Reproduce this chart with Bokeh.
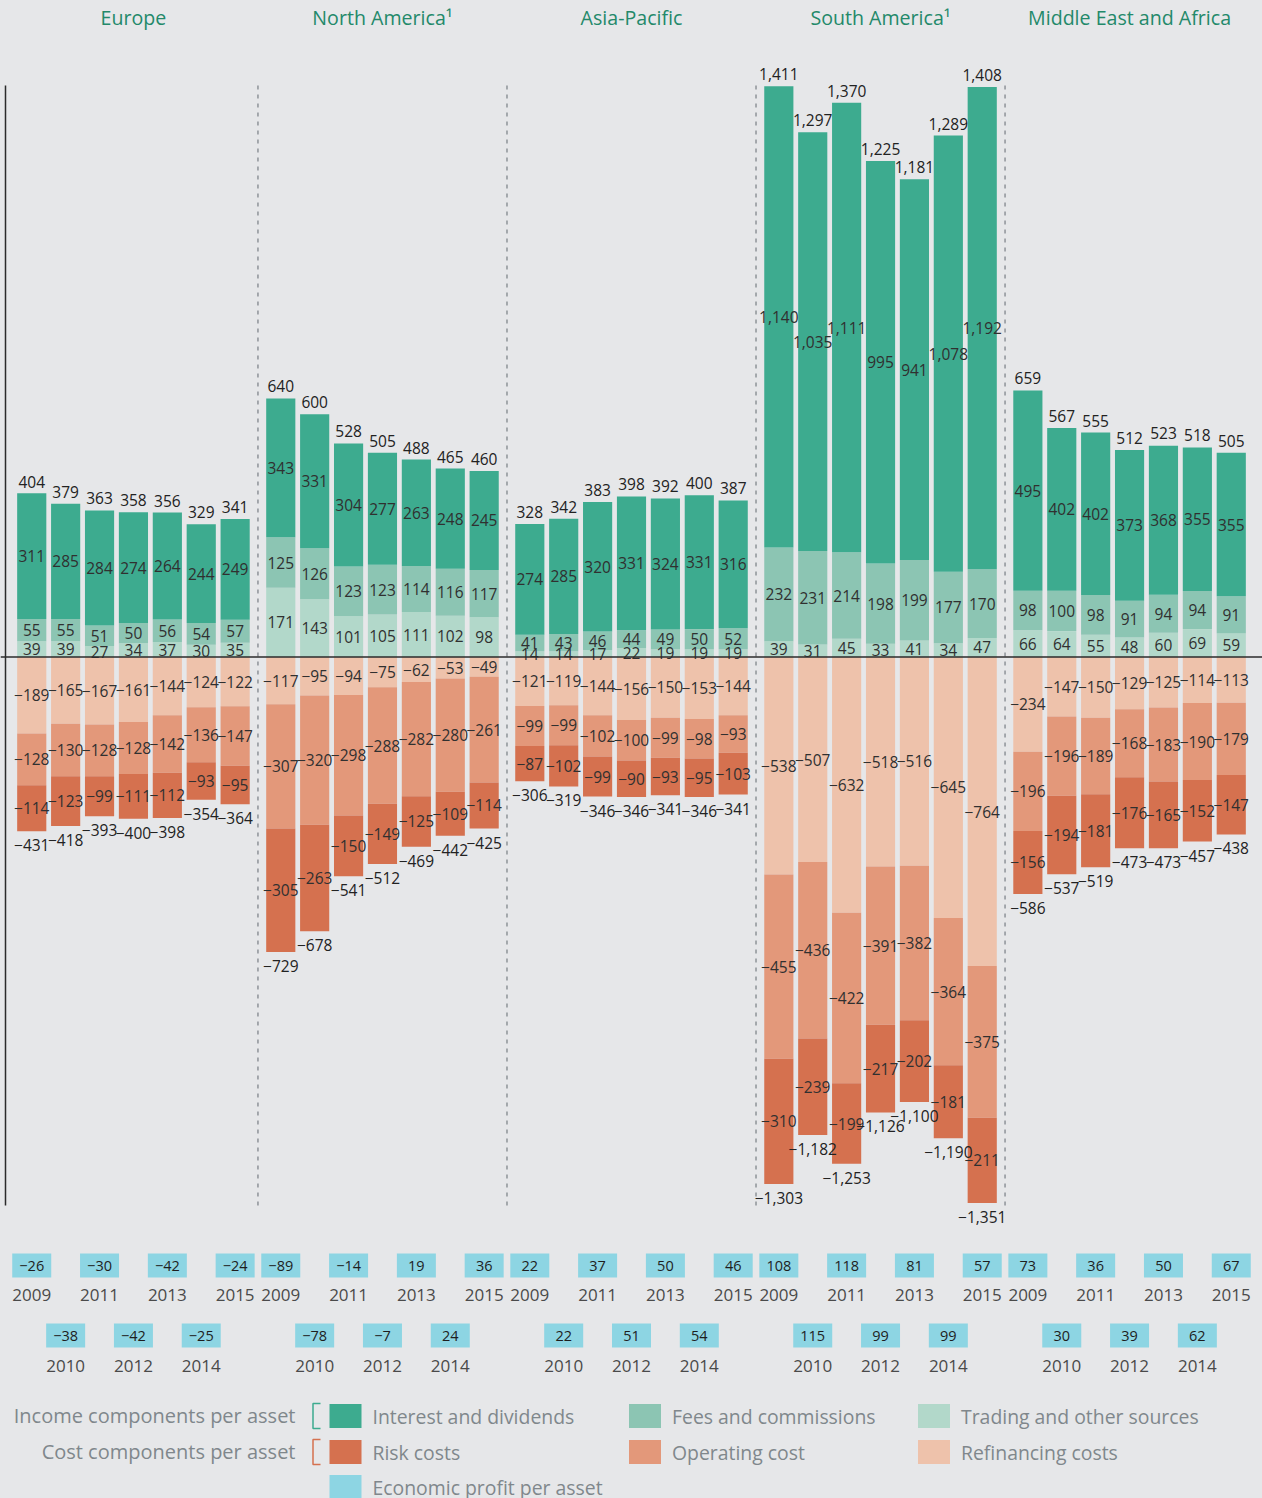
from bokeh.plotting import figure
from bokeh.models import FactorRange, Range1d, ColumnDataSource, Span
from bokeh.embed import file_html
from bokeh.resources import INLINE
from bokeh.core.properties import value

# ---------------- data ----------------
regions = ["Europe", "North America", "Asia-Pacific", "South America", "Middle East and Africa"]
region_titles = ["Europe", "North America¹", "Asia-Pacific", "South America¹", "Middle East and Africa"]
years = ["2009", "2010", "2011", "2012", "2013", "2014", "2015"]

interest = {
    "Europe": [311, 285, 284, 274, 264, 244, 249],
    "North America": [343, 331, 304, 277, 263, 248, 245],
    "Asia-Pacific": [274, 285, 320, 331, 324, 331, 316],
    "South America": [1140, 1035, 1111, 995, 941, 1078, 1192],
    "Middle East and Africa": [495, 402, 402, 373, 368, 355, 355],
}
fees = {
    "Europe": [55, 55, 51, 50, 56, 54, 57],
    "North America": [125, 126, 123, 123, 114, 116, 117],
    "Asia-Pacific": [41, 43, 46, 44, 49, 50, 52],
    "South America": [232, 231, 214, 198, 199, 177, 170],
    "Middle East and Africa": [98, 100, 98, 91, 94, 94, 91],
}
trading = {
    "Europe": [39, 39, 27, 34, 37, 30, 35],
    "North America": [171, 143, 101, 105, 111, 102, 98],
    "Asia-Pacific": [14, 14, 17, 22, 19, 19, 19],
    "South America": [39, 31, 45, 33, 41, 34, 47],
    "Middle East and Africa": [66, 64, 55, 48, 60, 69, 59],
}
income_total = {
    "Europe": [404, 379, 363, 358, 356, 329, 341],
    "North America": [640, 600, 528, 505, 488, 465, 460],
    "Asia-Pacific": [328, 342, 383, 398, 392, 400, 387],
    "South America": [1411, 1297, 1370, 1225, 1181, 1289, 1408],
    "Middle East and Africa": [659, 567, 555, 512, 523, 518, 505],
}
refinancing = {
    "Europe": [-189, -165, -167, -161, -144, -124, -122],
    "North America": [-117, -95, -94, -75, -62, -53, -49],
    "Asia-Pacific": [-121, -119, -144, -156, -150, -153, -144],
    "South America": [-538, -507, -632, -518, -516, -645, -764],
    "Middle East and Africa": [-234, -147, -150, -129, -125, -114, -113],
}
operating = {
    "Europe": [-128, -130, -128, -128, -142, -136, -147],
    "North America": [-307, -320, -298, -288, -282, -280, -261],
    "Asia-Pacific": [-99, -99, -102, -100, -99, -98, -93],
    "South America": [-455, -436, -422, -391, -382, -364, -375],
    "Middle East and Africa": [-196, -196, -189, -168, -183, -190, -179],
}
risk = {
    "Europe": [-114, -123, -99, -111, -112, -93, -95],
    "North America": [-305, -263, -150, -149, -125, -109, -114],
    "Asia-Pacific": [-87, -102, -99, -90, -93, -95, -103],
    "South America": [-310, -239, -199, -217, -202, -181, -211],
    "Middle East and Africa": [-156, -194, -181, -176, -165, -152, -147],
}
cost_total = {
    "Europe": [-431, -418, -393, -400, -398, -354, -364],
    "North America": [-729, -678, -541, -512, -469, -442, -425],
    "Asia-Pacific": [-306, -319, -346, -346, -341, -346, -341],
    "South America": [-1303, -1182, -1253, -1126, -1100, -1190, -1351],
    "Middle East and Africa": [-586, -537, -519, -473, -473, -457, -438],
}
economic_profit = {
    "Europe": [-26, -38, -30, -42, -42, -25, -24],
    "North America": [-89, -78, -14, -7, 19, 24, 36],
    "Asia-Pacific": [22, 22, 37, 51, 50, 54, 46],
    "South America": [108, 115, 118, 99, 81, 99, 57],
    "Middle East and Africa": [73, 30, 36, 39, 50, 62, 67],
}

# ---------------- styles / layout ----------------
C_INT, C_FEE, C_TRD = "#3dab8f", "#8cc5b3", "#b2d8ca"
C_RISK, C_OPER, C_REF = "#d5714f", "#e3987a", "#eec2ab"
C_EP = "#8dd5e3"
BG = "#e6e7e9"
FONT = value("Open Sans")

W, H = 1262, 1498
ZERO_REF = 656.5
SCALE = 0.4045
U = 33.9
G = 0.346
L = 35 + 4 * G
PAD_SIDE = (W / U - L) / 2


def yv(ref_y):
    return (ZERO_REF - ref_y) / SCALE


def xs(ref_x):
    return ref_x / U - PAD_SIDE


def fmt(v):
    return f"{v:,}".replace("-", "\u2212")


factors = [(r, y) for r in regions for y in years]
x_range = FactorRange(*factors, group_padding=G, range_padding=PAD_SIDE,
                      range_padding_units="absolute")

p = figure(x_range=x_range, y_range=Range1d(yv(H), yv(0)),
           width=W, height=H, output_backend="svg", toolbar_location=None,
           x_axis_location=None, y_axis_location=None, min_border=0)
p.grid.visible = False
p.outline_line_color = None
p.background_fill_color = BG
p.border_fill_color = BG

data = dict(x=[], trading=[], fees=[], interest=[], refin=[], oper=[], risk=[],
            inc=[], cost=[], inc_txt=[], cost_txt=[])
seg = dict(x=[], y=[], t=[])
ep = dict(x=[], y=[], t=[], yl=[], yr=[])
for r in regions:
    for i, yr in enumerate(years):
        x = (r, yr)
        tr, fe, it = trading[r][i], fees[r][i], interest[r][i]
        rf, op, rk = refinancing[r][i], operating[r][i], risk[r][i]
        data["x"].append(x)
        data["trading"].append(tr)
        data["fees"].append(fe)
        data["interest"].append(it)
        data["refin"].append(rf)
        data["oper"].append(op)
        data["risk"].append(rk)
        data["inc"].append(income_total[r][i])
        data["cost"].append(cost_total[r][i])
        data["inc_txt"].append(fmt(income_total[r][i]))
        data["cost_txt"].append(fmt(cost_total[r][i]))
        base = 0
        for v in (tr, fe, it):
            seg["x"].append(x); seg["y"].append(base + v / 2); seg["t"].append(fmt(v))
            base += v
        base = 0
        for v in (rf, op, rk):
            seg["x"].append(x); seg["y"].append(base + v / 2); seg["t"].append(fmt(v))
            base += v
        row = i % 2
        ep["x"].append(x)
        ep["y"].append(yv(1265) if row == 0 else yv(1335))
        ep["yl"].append(yv(1294) if row == 0 else yv(1365))
        ep["t"].append(fmt(economic_profit[r][i]))
        ep["yr"].append(yr)

src = ColumnDataSource(data)

# zero line
p.add_layout(Span(location=0, dimension="width", line_color="#2b2b2b", line_width=1.6))

# left axis line and dashed separators
p.segment(x0=[xs(5)], y0=[yv(85)], x1=[xs(5)], y1=[yv(1205)],
          line_color="#2b2b2b", line_width=1.5)
sep_x = [(r, years[-1], 0.5 + G / 2) for r in regions[:-1]]
p.segment(x0=sep_x, y0=[yv(85)] * 4, x1=sep_x, y1=[yv(1205)] * 4,
          line_color="#8e9398", line_width=1.5, line_dash="4 5")

p.vbar_stack(["trading", "fees", "interest"], x="x", width=0.86, source=src,
             color=[C_TRD, C_FEE, C_INT], line_width=0)
p.vbar_stack(["refin", "oper", "risk"], x="x", width=0.86, source=src,
             color=[C_REF, C_OPER, C_RISK], line_width=0)

LBL = "15.5px"
p.text(x="x", y="y", text="t", source=ColumnDataSource(seg), text_align="center",
       text_baseline="middle", text_font=FONT, text_font_size=LBL, text_color="#303030")
p.text(x="x", y="inc", text="inc_txt", source=src, text_align="center",
       text_baseline="bottom", y_offset=-6, text_font=FONT, text_font_size=LBL,
       text_color="#222222")
p.text(x="x", y="cost", text="cost_txt", source=src, text_align="center",
       text_baseline="top", y_offset=8, text_font=FONT, text_font_size=LBL,
       text_color="#222222")

# region titles
p.text(x=[(r, "2012") for r in regions], y=[yv(17)] * 5, text=region_titles,
       text_align="center", text_baseline="middle", text_font=FONT,
       text_font_size="19.6px", text_color="#23896a")

# economic profit boxes
eps = ColumnDataSource(ep)
p.rect(x="x", y="y", width=39, height=24, width_units="screen", height_units="screen",
       source=eps, fill_color=C_EP, line_color=None)
p.text(x="x", y="y", text="t", source=eps, text_align="center", text_baseline="middle",
       text_font=FONT, text_font_size="14.5px", text_color="#1e1e1e")
p.text(x="x", y="yl", text="yr", source=eps, text_align="center", text_baseline="middle",
       text_font=FONT, text_font_size="17px", text_color="#4a4a4a")

# legend
LEG_GREY = "#80878c"
p.text(x=[xs(295)] * 2, y=[yv(1415), yv(1451)],
       text=["Income components per asset", "Cost components per asset"],
       text_align="right", text_baseline="middle", text_font=FONT,
       text_font_size="20px", text_color=LEG_GREY)
for (top, bot, col) in [(1403, 1428, C_INT), (1439, 1464, C_RISK)]:
    p.multi_line(xs=[[xs(320), xs(312.5), xs(312.5), xs(320)]],
                 ys=[[yv(top), yv(top), yv(bot), yv(bot)]], line_color=col, line_width=1.5)

leg_x = [345, 644.5, 933.5, 345, 644.5, 933.5, 345]
leg_y = [1415.5, 1415.5, 1415.5, 1451.5, 1451.5, 1451.5, 1486.5]
leg_c = [C_INT, C_FEE, C_TRD, C_RISK, C_OPER, C_REF, C_EP]
leg_t = ["Interest and dividends", "Fees and commissions", "Trading and other sources",
         "Risk costs", "Operating cost", "Refinancing  costs", "Economic profit per asset"]
p.rect(x=[xs(v) for v in leg_x], y=[yv(v) for v in leg_y], width=32, height=24,
       width_units="screen", height_units="screen", fill_color=leg_c, line_color=None)
p.text(x=[xs(v + 27) for v in leg_x], y=[yv(v) for v in leg_y], text=leg_t,
       text_align="left", text_baseline="middle", text_font=FONT,
       text_font_size="19.4px", text_color=LEG_GREY)

html = file_html(p, INLINE)
html = html.replace("<head>", "<head><style>html,body{background:%s;}</style>" % BG, 1)
open("out.html", "w").write(html)
